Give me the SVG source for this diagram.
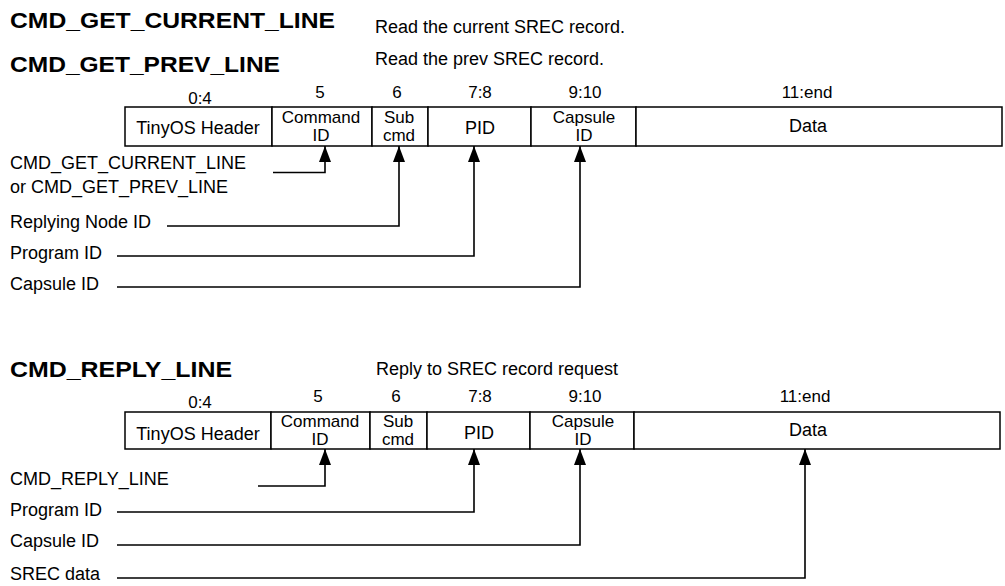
<svg xmlns="http://www.w3.org/2000/svg" width="1005" height="586" viewBox="0 0 1005 586">
<style>
text{font-family:"Liberation Sans",Arial,sans-serif;fill:#000}
.t{font-size:21.5px;font-weight:bold}
.r{font-size:18px}
.n{font-size:17px;text-anchor:middle}
.c{font-size:18px;text-anchor:middle}
.c2{font-size:17px;text-anchor:middle}
.cell{fill:#fff;stroke:#000;stroke-width:1.5}
.conn{fill:none;stroke:#000;stroke-width:1.6}
</style>
<defs>
<marker id="ah" markerUnits="userSpaceOnUse" viewBox="0 0 16 12" refX="16" refY="6" markerWidth="16" markerHeight="12" orient="auto">
<path d="M0,0 L16,6 L0,12 z" fill="#000"/>
</marker>
</defs>
<rect width="1005" height="586" fill="#fff"/>

<g id="titles-top">
<text class="t" x="10" y="28" textLength="325" lengthAdjust="spacingAndGlyphs">CMD_GET_CURRENT_LINE</text>
<text class="t" x="10" y="72" textLength="270" lengthAdjust="spacingAndGlyphs">CMD_GET_PREV_LINE</text>
<text class="r" x="375" y="33">Read the current SREC record.</text>
<text class="r" x="375" y="65">Read the prev SREC record.</text>
</g>

<g id="record-top">
<g id="top-hdr"><rect class="cell" x="125" y="107" width="147" height="39"/><text class="n" x="200" y="104">0:4</text><text class="c" x="198" y="134">TinyOS Header</text></g>
<g id="top-cmd"><rect class="cell" x="272" y="107" width="100" height="39"/><text class="n" x="320" y="98">5</text><text class="c2" x="321" y="123">Command</text><text class="c2" x="321" y="141">ID</text></g>
<g id="top-sub"><rect class="cell" x="372" y="107" width="56" height="39"/><text class="n" x="397" y="98">6</text><text class="c2" x="399" y="123">Sub</text><text class="c2" x="399" y="141">cmd</text></g>
<g id="top-pid"><rect class="cell" x="428" y="107" width="103" height="39"/><text class="n" x="480" y="98">7:8</text><text class="c" x="480" y="134">PID</text></g>
<g id="top-cap"><rect class="cell" x="531" y="107" width="105" height="39"/><text class="n" x="585" y="98">9:10</text><text class="c2" x="584" y="123">Capsule</text><text class="c2" x="584" y="141">ID</text></g>
<g id="top-data"><rect class="cell" x="636" y="107" width="366" height="39"/><text class="n" x="807" y="98">11:end</text><text class="c" x="808" y="132">Data</text></g>
</g>

<g id="labels-top">
<text class="r" x="10" y="169">CMD_GET_CURRENT_LINE</text>
<text class="r" x="10" y="193">or CMD_GET_PREV_LINE</text>
<text class="r" x="10" y="228">Replying Node ID</text>
<text class="r" x="10" y="259">Program ID</text>
<text class="r" x="10" y="290">Capsule ID</text>
</g>

<g id="titles-bottom">
<text class="t" x="10" y="377" textLength="222" lengthAdjust="spacingAndGlyphs">CMD_REPLY_LINE</text>
<text class="r" x="497" y="375" text-anchor="middle">Reply to SREC record request</text>
</g>

<g id="record-bottom">
<g id="bot-hdr"><rect class="cell" x="125" y="412" width="146" height="37"/><text class="n" x="200" y="408">0:4</text><text class="c" x="198" y="440">TinyOS Header</text></g>
<g id="bot-cmd"><rect class="cell" x="271" y="412" width="99" height="37"/><text class="n" x="318" y="402">5</text><text class="c2" x="320" y="427">Command</text><text class="c2" x="320" y="445">ID</text></g>
<g id="bot-sub"><rect class="cell" x="370" y="412" width="57" height="37"/><text class="n" x="396" y="402">6</text><text class="c2" x="398" y="427">Sub</text><text class="c2" x="398" y="445">cmd</text></g>
<g id="bot-pid"><rect class="cell" x="427" y="412" width="103" height="37"/><text class="n" x="480" y="402">7:8</text><text class="c" x="479" y="439">PID</text></g>
<g id="bot-cap"><rect class="cell" x="530" y="412" width="104" height="37"/><text class="n" x="585" y="402">9:10</text><text class="c2" x="583" y="427">Capsule</text><text class="c2" x="583" y="445">ID</text></g>
<g id="bot-data"><rect class="cell" x="634" y="412" width="366" height="37"/><text class="n" x="805" y="402">11:end</text><text class="c" x="808" y="436">Data</text></g>
</g>

<g id="labels-bottom">
<text class="r" x="10" y="485">CMD_REPLY_LINE</text>
<text class="r" x="10" y="516">Program ID</text>
<text class="r" x="10" y="547">Capsule ID</text>
<text class="r" x="10" y="580">SREC data</text>
</g>

<g id="connectors">
<path class="conn" marker-end="url(#ah)" d="M273,172.5 H325 V146"/>
<path class="conn" marker-end="url(#ah)" d="M167,226 H399 V146"/>
<path class="conn" marker-end="url(#ah)" d="M117,256 H474 V146"/>
<path class="conn" marker-end="url(#ah)" d="M117,287 H580 V146"/>
<path class="conn" marker-end="url(#ah)" d="M258,486 H325 V449"/>
<path class="conn" marker-end="url(#ah)" d="M117,512 H474 V449"/>
<path class="conn" marker-end="url(#ah)" d="M117,545 H580 V449"/>
<path class="conn" marker-end="url(#ah)" d="M117,578 H805 V449"/>
</g>
</svg>
